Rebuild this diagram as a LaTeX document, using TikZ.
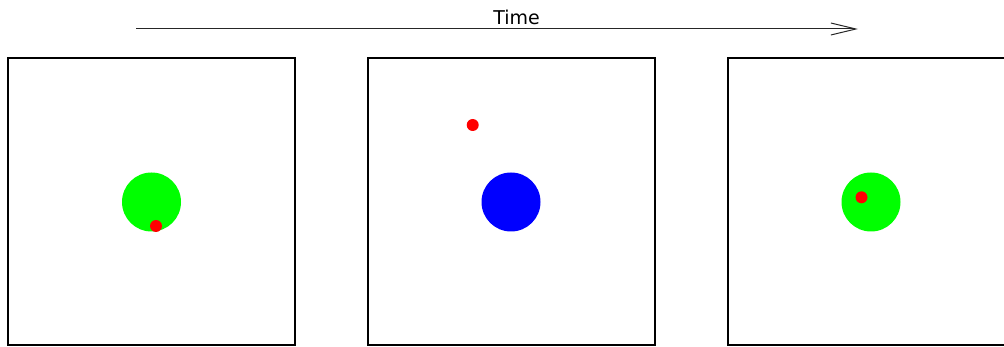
\documentclass[tikz,border=0pt]{standalone}
\usepackage{fontspec}
\setmainfont{DejaVu Sans}
\usetikzlibrary{arrows.meta}
\begin{document}
\begin{tikzpicture}[x=1pt,y=-1pt,
  frame/.style={draw=black,line width=2pt,minimum width=287pt,minimum height=287pt,inner sep=0pt,outer sep=0pt},
  big/.style={circle,inner sep=0pt,minimum size=59pt},
  dot/.style={circle,fill=red,inner sep=0pt,minimum size=12pt},
  timearrow/.style={draw=black!85,line width=1pt,-{Straight Barb[length=25pt,width=12pt,line width=1pt]}}]
\useasboundingbox (0,0) rectangle (1004,347);
\node[frame] (f1) at (151.5,201.5) {};
\node[frame] (f2) at (511,201.5) {};
\node[frame] (f3) at (871,201.5) {};
\node[big,fill={rgb,255:red,0;green,255;blue,0}] (g1) at (151.5,202) {};
\node[dot] (r1) at (156,226) {};
\node[big,fill=blue] (b2) at (511,202) {};
\node[dot] (r2) at (472.7,125) {};
\node[big,fill={rgb,255:red,0;green,255;blue,0}] (g3) at (871,202) {};
\node[dot] (r3) at (861.5,197.3) {};
\coordinate (ta) at (136,29);
\coordinate (tb) at (858,29);
\draw[timearrow] (ta) -- (tb);
\node[font=\fontsize{19pt}{22pt}\selectfont,inner sep=0pt,anchor=base] (time) at (516.5,24.5) {Time};
\end{tikzpicture}
\end{document}
